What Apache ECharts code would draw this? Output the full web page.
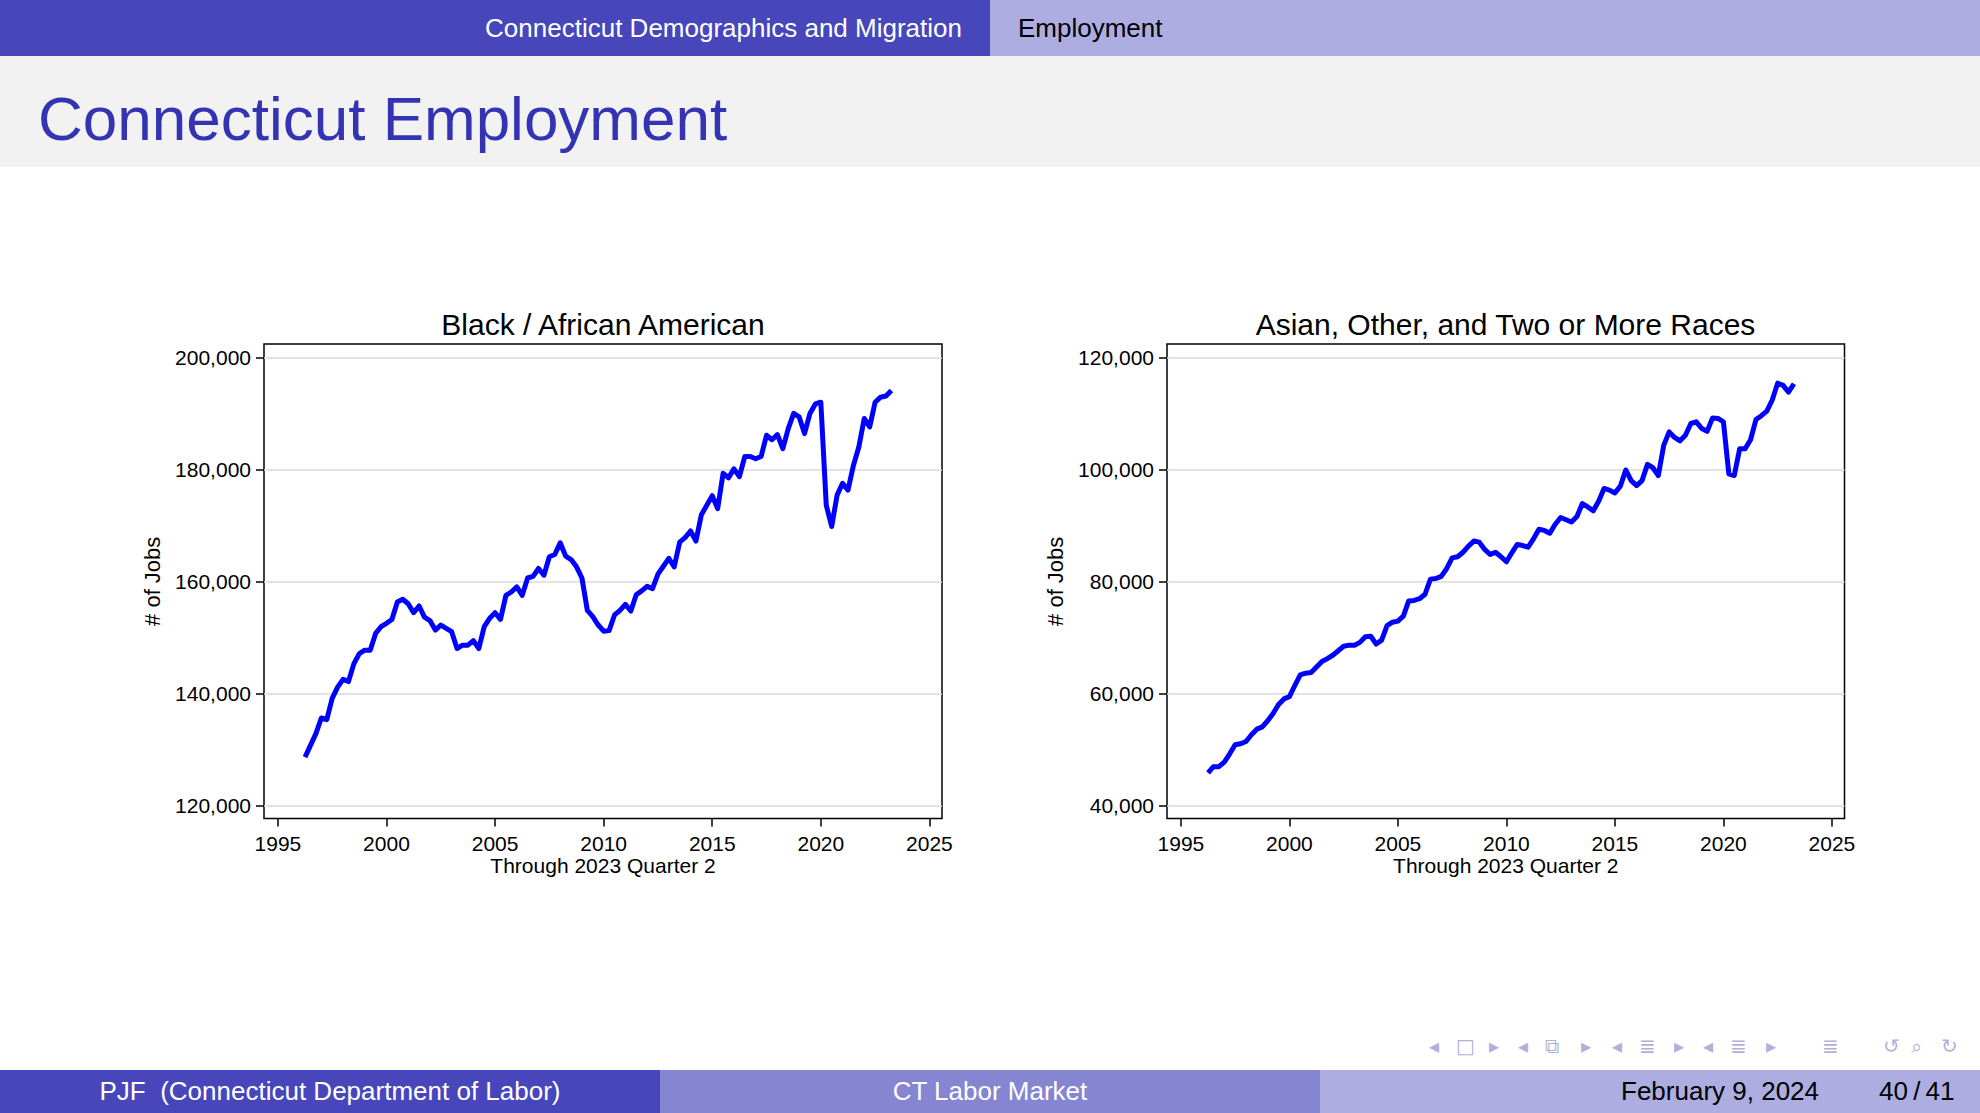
<!DOCTYPE html>
<html>
<head>
<meta charset="utf-8">
<script src="https://cdn.jsdelivr.net/npm/echarts@6/dist/echarts.min.js"></script>
<style>
  html, body { margin:0; padding:0; width:1980px; height:1113px; overflow:hidden; background:#ffffff;
    font-family:"Liberation Sans", Arial, Helvetica, sans-serif; }
  .abs { position:absolute; }
  #hdrL { left:0; top:0; width:990px; height:56px; background:#4747BB; color:#ffffff; font-size:26px;
    line-height:56px; text-align:right; box-sizing:border-box; padding-right:28px; white-space:nowrap; }
  #hdrR { left:990px; top:0; width:990px; height:56px; background:#ADADE1; color:#000000; font-size:26px;
    line-height:56px; box-sizing:border-box; padding-left:28px; white-space:nowrap; }
  #band { left:0; top:56px; width:1980px; height:111px; background:#F2F2F2; }
  #title { left:38px; top:88px; font-size:62px; line-height:1; color:#3333B3; white-space:nowrap; }
  .foot { top:1070px; height:43px; line-height:43px; font-size:26px; white-space:nowrap; }
  #f1 { left:0; width:660px; background:#4747BB; color:#fff; text-align:center; }
  #f2 { left:660px; width:660px; background:#8585D1; color:#fff; text-align:center; }
  #f3 { left:1320px; width:660px; background:#ADADE1; color:#000; }
  .nav { top:1033px; font-family:"DejaVu Sans", sans-serif; font-size:20px; color:#B0B0DA; line-height:26px; }
  #chart { left:0; top:0; width:1980px; height:1113px; }
</style>
</head>
<body>
<div class="abs" id="hdrL">Connecticut Demographics and Migration</div>
<div class="abs" id="hdrR">Employment</div>
<div class="abs" id="band"></div>
<div class="abs" id="title">Connecticut Employment</div>

<div class="abs foot" id="f1">PJF&nbsp;&nbsp;(Connecticut Department of Labor)</div>
<div class="abs foot" id="f2">CT Labor Market</div>
<div class="abs foot" id="f3"><span class="abs" style="left:301px;">February 9, 2024</span><span class="abs" style="left:559px;">40&#8201;/&#8201;41</span></div>

<div class="abs nav" style="left:1429px;">&#9666;</div>
<div class="abs nav" style="left:1456px;">&#9633;</div>
<div class="abs nav" style="left:1489px;">&#9656;</div>
<div class="abs nav" style="left:1518px;">&#9666;</div>
<div class="abs nav" style="left:1545px;">&#10697;</div>
<div class="abs nav" style="left:1581px;">&#9656;</div>
<div class="abs nav" style="left:1612px;">&#9666;</div>
<div class="abs nav" style="left:1639px;">&#8803;</div>
<div class="abs nav" style="left:1674px;">&#9656;</div>
<div class="abs nav" style="left:1703px;">&#9666;</div>
<div class="abs nav" style="left:1730px;">&#8803;</div>
<div class="abs nav" style="left:1766px;">&#9656;</div>
<div class="abs nav" style="left:1822px;">&#8803;</div>
<div class="abs nav" style="left:1883px;">&#8634;</div>
<div class="abs nav" style="left:1911px;">&#8981;</div>
<div class="abs nav" style="left:1941px;">&#8635;</div>

<div class="abs" id="chart"></div>

<script>
// ---- data (quarterly, 1996 Q2 through 2023 Q2) ----
const firstYear = 1996, firstQuarter = 2, lastYear = 2023, lastQuarter = 2;

const blackJobs = [
  128600,130700,132800,135600,135300,139100,141100,142500,142100,145300,
  147100,147700,147700,150700,151900,152500,153200,156300,156800,156000,
  154400,155600,153600,153000,151300,152200,151600,151000,148000,148600,
  148600,149400,148000,151900,153400,154400,153200,157500,158100,159000,
  157500,160600,160900,162300,161100,164400,164800,166900,164500,163900,
  162600,160600,154800,153700,152200,151100,151200,154000,154800,155900,
  154700,157600,158300,159100,158700,161300,162700,164100,162600,167000,
  167800,169000,167200,171900,173600,175300,173000,179300,178500,180100,
  178700,182300,182300,181900,182300,186100,185300,186200,183700,187300,
  190000,189400,186400,190000,191700,192000,173600,169800,175400,177500,
  176300,180700,184000,189100,187600,192000,192900,193100,194100
];

const asianJobs = [
  45800,46900,46900,47700,49200,50800,51000,51400,52600,53600,
  54000,55100,56400,58000,59000,59400,61400,63300,63600,63700,
  64700,65700,66200,66800,67600,68400,68600,68600,69100,70100,
  70200,68800,69500,72100,72700,72900,73800,76500,76600,76900,
  77700,80400,80500,80900,82300,84200,84400,85200,86300,87200,
  87000,85700,84800,85200,84400,83500,85100,86600,86400,86100,
  87600,89300,89100,88600,90200,91400,91000,90600,91600,93900,
  93300,92600,94300,96600,96300,95800,97000,99900,98000,97100,
  98000,100900,100300,98900,104300,106700,105700,105100,106100,108200,
  108500,107300,106800,109200,109100,108500,99200,98900,103700,103700,
  105300,108900,109600,110400,112400,115400,115000,113800,115300
];

const xTickLabels = [1995, 2000, 2005, 2010, 2015, 2020, 2025];
const yTicksBlack = [120000, 140000, 160000, 180000, 200000];
const yTicksAsian = [40000, 60000, 80000, 100000, 120000];

const titles = ['Black / African American', 'Asian, Other, and Two or More Races'];
const xName = 'Through 2023 Quarter 2';
const yName = '# of Jobs';

// time variable: year + (quarter-1)/4
const quarterTime = [];
for (let y = firstYear, q = firstQuarter; y < lastYear || (y === lastYear && q <= lastQuarter); ) {
  quarterTime.push(y + (q - 1) / 4);
  q++; if (q > 4) { q = 1; y++; }
}

const FONT = '"Liberation Sans", Arial, Helvetica, sans-serif';
const fmt = v => Number(v).toLocaleString('en-US');

function xAxisFor(gridIndex) {
  return {
    type: 'value', gridIndex, min: 1994.36, max: 2025.58,
    axisLine: { show: false },
    axisTick: { show: true, customValues: xTickLabels, length: 8, lineStyle: { color: '#000', width: 1.5 } },
    axisLabel: { customValues: xTickLabels, fontSize: 21, color: '#000', margin: 14, fontFamily: FONT,
      formatter: v => String(Math.round(v)) },
    splitLine: { show: false },
    name: xName, nameLocation: 'middle', nameGap: 35,
    nameTextStyle: { fontSize: 21, color: '#000', fontFamily: FONT }
  };
}
function yAxisFor(gridIndex, ticks, min, max) {
  return {
    type: 'value', gridIndex, min, max,
    axisLine: { show: false },
    axisTick: { show: true, customValues: ticks, length: 8, lineStyle: { color: '#000', width: 1.5 } },
    axisLabel: { customValues: ticks, fontSize: 21, color: '#000', margin: 13, fontFamily: FONT, formatter: fmt },
    splitLine: { show: true, lineStyle: { color: '#dadada', width: 1.5 } },
    name: yName, nameLocation: 'middle', nameGap: 101, nameRotate: 90,
    nameTextStyle: { fontSize: 22, color: '#000', fontFamily: FONT }
  };
}

const chart = echarts.init(document.getElementById('chart'), null, { renderer: 'svg', width: 1980, height: 1113 });
chart.setOption({
  animation: false,
  backgroundColor: 'transparent',
  grid: [
    { left: 264, top: 344, width: 678, height: 474.6, show: true, borderColor: '#000', borderWidth: 1.5, containLabel: false },
    { left: 1167, top: 344, width: 677.5, height: 474.6, show: true, borderColor: '#000', borderWidth: 1.5, containLabel: false }
  ],
  xAxis: [xAxisFor(0), xAxisFor(1)],
  yAxis: [
    yAxisFor(0, yTicksBlack, 117620, 202400),
    yAxisFor(1, yTicksAsian, 37620, 122400)
  ],
  graphic: [
    { type: 'text', x: 603, y: 324, style: { text: titles[0], fill: '#000', font: '30px ' + FONT, align: 'center', verticalAlign: 'middle' } },
    { type: 'text', x: 1505.5, y: 324, style: { text: titles[1], fill: '#000', font: '30px ' + FONT, align: 'center', verticalAlign: 'middle' } }
  ],
  series: [
    { type: 'line', xAxisIndex: 0, yAxisIndex: 0, showSymbol: false, symbol: 'none',
      lineStyle: { color: '#0000FF', width: 5, join: 'round' },
      data: blackJobs.map((v, i) => [quarterTime[i], v]) },
    { type: 'line', xAxisIndex: 1, yAxisIndex: 1, showSymbol: false, symbol: 'none',
      lineStyle: { color: '#0000FF', width: 5, join: 'round' },
      data: asianJobs.map((v, i) => [quarterTime[i], v]) }
  ]
});
</script>
</body>
</html>
